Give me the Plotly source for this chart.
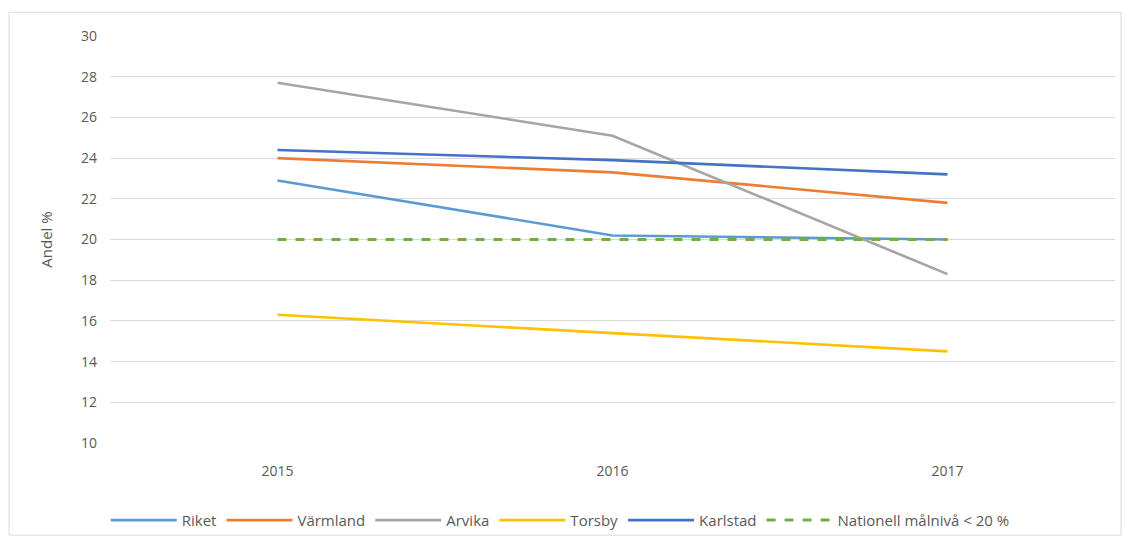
import plotly.graph_objects as go

years = ["2015", "2016", "2017"]
riket = [22.9, 20.2, 20.0]
varmland = [24.0, 23.3, 21.8]
arvika = [27.7, 25.1, 18.3]
torsby = [16.3, 15.4, 14.5]
karlstad = [24.4, 23.9, 23.2]
malniva = [20.0, 20.0, 20.0]

series = [
    ("Riket", riket, "#5B9BD5", "solid"),
    ("Värmland", varmland, "#ED7D31", "solid"),
    ("Arvika", arvika, "#A5A5A5", "solid"),
    ("Torsby", torsby, "#FFC000", "solid"),
    ("Karlstad", karlstad, "#4472C4", "solid"),
    ("Nationell målnivå < 20 %", malniva, "#70AD47", "dash"),
]

fig = go.Figure()
for name, vals, color, dash in series:
    fig.add_trace(go.Scatter(
        x=years, y=vals, name=name, mode="lines",
        line=dict(color=color, width=2.6 if dash == "solid" else 3, dash=dash),
    ))

font_family = "Open Sans, Liberation Sans, sans-serif"
fig.update_layout(
    width=1129, height=549,
    margin=dict(l=110, r=14, t=36, b=102),
    paper_bgcolor="white", plot_bgcolor="white",
    font=dict(family=font_family, size=13, color="#595959"),
    showlegend=True,
    legend=dict(orientation="h", x=0.448, xanchor="center", y=-0.19, yanchor="middle",
                bgcolor="rgba(0,0,0,0)",
                font=dict(size=15, color="#595959"), itemwidth=66, tracegroupgap=0),
    xaxis=dict(type="category", range=[-0.5, 2.5], showgrid=False, zeroline=False,
               showline=False, ticks="", ticklabelstandoff=18,
               tickfont=dict(size=14, color="#595959")),
    yaxis=dict(range=[10, 30], dtick=2, showgrid=True, gridcolor="#D9D9D9", gridwidth=1,
               zeroline=False, showline=False, ticks="", ticklabelstandoff=12,
               title=dict(text="Andel %", font=dict(size=15, color="#595959"), standoff=24),
               tickfont=dict(size=14, color="#595959")),
    shapes=[dict(type="rect", xref="paper", yref="paper",
                 x0=(9 - 110) / 1005, x1=(1121 - 110) / 1005,
                 y0=(447 - 540) / 411, y1=(447 - 12) / 411,
                 line=dict(color="#D9D9D9", width=1), fillcolor="rgba(0,0,0,0)", layer="below")],
)

fig.write_html("out.html")
